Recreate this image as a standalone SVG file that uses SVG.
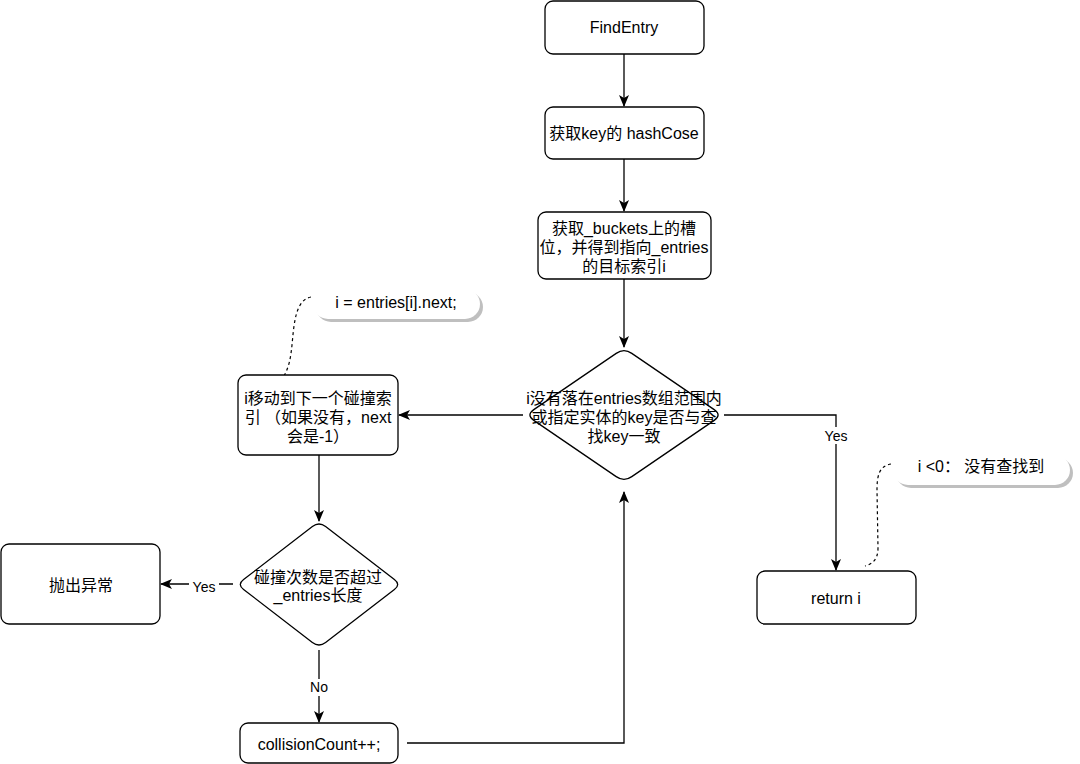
<svg xmlns="http://www.w3.org/2000/svg" width="1080" height="764" viewBox="0 0 1080 764">
<defs>
<style>
.box{fill:#fff;stroke:#000;stroke-width:1.3}
.t{font-family:"Liberation Sans","Noto Sans CJK SC",sans-serif;font-size:16px;fill:#000;text-anchor:middle}
.lbl{font-family:"Liberation Sans","Noto Sans CJK SC",sans-serif;font-size:14px;fill:#000;text-anchor:middle}
.edge{fill:none;stroke:#000;stroke-width:1.3}
.dash{fill:none;stroke:#000;stroke-width:1.2;stroke-dasharray:3 3}
.sh{fill:#000;opacity:0.25}
.note{fill:#fff;stroke:none}
</style>
<marker id="arr" viewBox="0 0 12 12" refX="11" refY="6" markerWidth="12" markerHeight="12" markerUnits="userSpaceOnUse" orient="auto">
<path d="M0,1 L12,6 L0,11 L3,6 Z" fill="#000"/>
</marker>
</defs>
<rect width="1080" height="764" fill="#fff"/>

<g id="connectors">
<path class="edge" d="M624,54 L624,106" marker-end="url(#arr)"/>
<path class="edge" d="M624,159 L624,211" marker-end="url(#arr)"/>
<path class="edge" d="M624,279 L624,347" marker-end="url(#arr)"/>
<path class="edge" d="M523,415 L399,415" marker-end="url(#arr)"/>
<path class="edge" d="M724,415 L836,415 L836,570" marker-end="url(#arr)"/>
<path class="edge" d="M319,455 L319,521" marker-end="url(#arr)"/>
<path class="edge" d="M233,584 L161,584" marker-end="url(#arr)"/>
<path class="edge" d="M319,650 L319,722" marker-end="url(#arr)"/>
<path class="edge" d="M407,743 L624,743 L624,492" marker-end="url(#arr)"/>
<path class="dash" d="M311,297 C295,300 294,325 292,345 S287,370 284,376"/>
<path class="dash" d="M891,464 C879,466 877,476 877,490 L878,548 C878,560 872,564 865,566"/>
<rect x="821" y="427" width="30" height="17" fill="#fff"/>
<text class="lbl" x="836" y="441">Yes</text>
<rect x="189" y="577" width="30" height="17" fill="#fff"/>
<text class="lbl" x="204" y="592">Yes</text>
<rect x="306" y="679" width="26" height="17" fill="#fff"/>
<text class="lbl" x="319" y="692">No</text>
</g>

<g id="n_findentry">
<rect class="box" x="545" y="1" width="159" height="53" rx="8"/>
<text class="t" x="624" y="33">FindEntry</text>
</g>
<g id="n_hash">
<rect class="box" x="545" y="107" width="159" height="52" rx="8"/>
<text class="t" x="624" y="139">获取key的 hashCose</text>
</g>
<g id="n_buckets">
<rect class="box" x="538" y="212" width="173" height="67" rx="8"/>
<text class="t" x="624" y="234">获取_buckets上的槽</text>
<text class="t" x="624" y="253">位，并得到指向_entries</text>
<text class="t" x="624" y="272">的目标索引i</text>
</g>
<g id="n_check">
<path class="box" d="M631.8,353.4 L714.2,409.6 Q722,415 714.2,420.4 L631.8,476.6 Q624,482 616.2,476.6 L533.8,420.4 Q526,415 533.8,409.6 L616.2,353.4 Q624,348 631.8,353.4 Z"/>
<text class="t" x="624" y="403.5">i没有落在entries数组范围内</text>
<text class="t" x="624" y="422.5">或指定实体的key是否与查</text>
<text class="t" x="624" y="441.5">找key一致</text>
</g>
<g id="n_next">
<rect class="box" x="238" y="375" width="160" height="80" rx="8"/>
<text class="t" x="318" y="404">i移动到下一个碰撞索</text>
<text class="t" x="318" y="423">引 （如果没有，next</text>
<text class="t" x="318" y="442">会是-1）</text>
</g>
<g id="n_note1">
<rect class="sh" x="316" y="292" width="167" height="30" rx="15"/>
<rect class="note" x="313" y="289" width="167" height="30" rx="15"/>
<text class="t" x="396" y="307.5">i = entries[i].next;</text>
</g>
<g id="n_count">
<path class="box" d="M325.6,526.5 L394.4,579.5 Q401,584.5 394.4,589.5 L325.6,642.5 Q319,647.5 312.4,642.5 L243.6,589.5 Q237,584.5 243.6,579.5 L312.4,526.5 Q319,521.5 325.6,526.5 Z"/>
<text class="t" x="318" y="583">碰撞次数是否超过</text>
<text class="t" x="318" y="601">_entries长度</text>
</g>
<g id="n_throw">
<rect class="box" x="1" y="544" width="159" height="80" rx="8"/>
<text class="t" x="81" y="590.5">抛出异常</text>
</g>
<g id="n_inc">
<rect class="box" x="240" y="723" width="158" height="40" rx="8"/>
<text class="t" x="319" y="749.5">collisionCount++;</text>
</g>
<g id="n_return">
<rect class="box" x="757" y="571" width="159" height="53" rx="8"/>
<text class="t" x="836" y="603.5">return i</text>
</g>
<g id="n_note2">
<rect class="sh" x="896" y="458" width="177" height="30" rx="15"/>
<rect class="note" x="893" y="455" width="177" height="30" rx="15"/>
<text class="t" x="981" y="471.5">i &lt;0： 没有查找到</text>
</g>
</svg>
